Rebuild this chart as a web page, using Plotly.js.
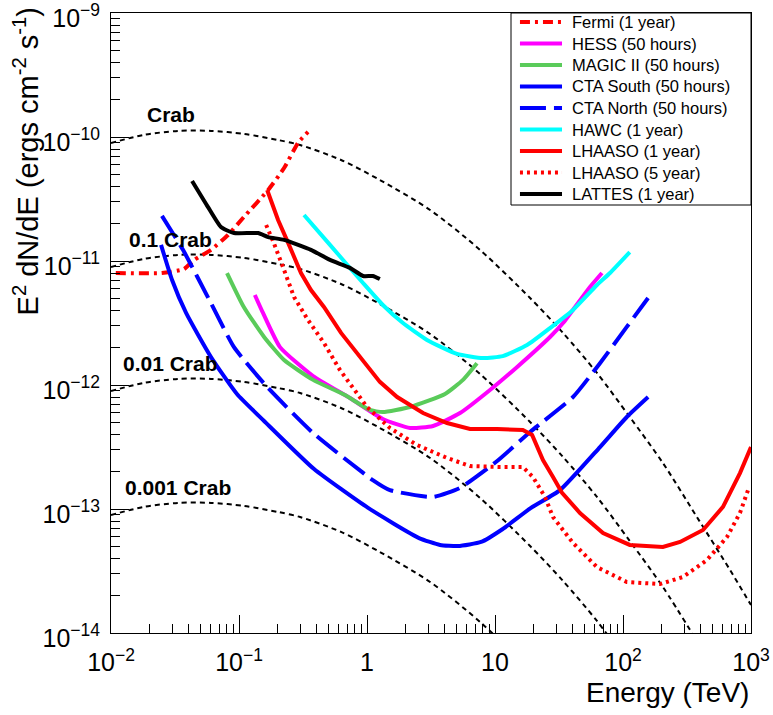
<!DOCTYPE html>
<html><head><meta charset="utf-8">
<script src="https://cdn.plot.ly/plotly-3.0.1.min.js"></script>
<style>body{margin:0;background:#fff}#chart{width:773px;height:715px}</style>
</head><body><div id="chart"></div>
<script>
// ---- Crab reference spectra (E in TeV, E^2 dN/dE in erg cm^-2 s^-1) ----
const crabE    = [0.01, 0.0181, 0.0333, 0.0604, 0.109, 0.202, 0.300, 0.627, 1.26, 3.11, 7.63, 18.8, 34.0, 62.6, 113, 205, 378, 686, 1000];
const crab1F   = [8.95e-11, 1.04e-10, 1.12e-10, 1.12e-10, 1.06e-10, 9.46e-11, 8.62e-11, 6.53e-11, 4.50e-11, 2.58e-11, 1.23e-11, 5.03e-12, 2.63e-12, 1.25e-12, 5.52e-13, 2.35e-13, 8.61e-14, 3.22e-14, 1.68e-14];
const crab01F  = [8.95e-12, 1.04e-11, 1.12e-11, 1.12e-11, 1.06e-11, 9.46e-12, 8.62e-12, 6.53e-12, 4.50e-12, 2.58e-12, 1.23e-12, 5.03e-13, 2.63e-13, 1.25e-13, 5.52e-14, 2.35e-14, 8.61e-15];
const crab001F = [8.95e-13, 1.04e-12, 1.12e-12, 1.12e-12, 1.06e-12, 9.46e-13, 8.62e-13, 6.53e-13, 4.50e-13, 2.58e-13, 1.23e-13, 5.03e-14, 2.63e-14, 1.25e-14, 5.52e-15];
const crab0001F= [8.95e-14, 1.04e-13, 1.12e-13, 1.12e-13, 1.06e-13, 9.46e-14, 8.62e-14, 6.53e-14, 4.50e-14, 2.58e-14, 1.23e-14, 5.03e-15];
const crabLabels = ["Crab", "0.1 Crab", "0.01 Crab", "0.001 Crab"];

// ---- Instrument sensitivities ----
const fermiE = [0.0109, 0.0246, 0.0371, 0.0445, 0.0604, 0.082, 0.109, 0.169, 0.225, 0.289, 0.346];
const fermiF = [8.0e-12, 8.0e-12, 8.6e-12, 1.02e-11, 1.23e-11, 1.62e-11, 2.26e-11, 3.74e-11, 5.62e-11, 8.95e-11, 1.10e-10];

const hessE = [0.133, 0.154, 0.209, 0.379, 0.736, 1.33, 2.17, 3.28, 5.33, 9.14, 14.9, 26.9, 34.0, 55.2, 68.5];
const hessF = [5.32e-12, 3.81e-12, 2.02e-12, 1.18e-12, 7.85e-13, 5.32e-13, 4.50e-13, 4.67e-13, 5.94e-13, 9.12e-13, 1.40e-12, 2.44e-12, 3.16e-12, 6.17e-12, 8.0e-12];

const magicE = [0.0806, 0.109, 0.157, 0.225, 0.379, 0.673, 1.05, 1.33, 2.17, 4.07, 5.62, 7.23];
const magicF = [8.0e-12, 4.26e-12, 2.44e-12, 1.59e-12, 1.10e-12, 8.3e-13, 6.29e-13, 6.05e-13, 6.65e-13, 8.46e-13, 1.10e-12, 1.50e-12];

const ctaSouthE = [0.0246, 0.030, 0.0386, 0.0604, 0.0964, 0.157, 0.386, 1.02, 2.55, 3.72, 5.14, 7.78, 11.5, 19.1, 32.2, 66.1, 107, 157];
const ctaSouthF = [1.35e-11, 7.03e-12, 3.81e-12, 1.68e-12, 8.46e-13, 5.13e-13, 2.10e-13, 1.02e-13, 5.83e-14, 5.13e-14, 5.03e-14, 5.42e-14, 6.90e-14, 1.02e-13, 1.42e-13, 3.16e-13, 5.52e-13, 8.0e-13];

const ctaNorthE = [0.025, 0.0365, 0.0604, 0.0914, 0.166, 0.379, 1.11, 1.51, 3.28, 5.33, 10.4, 18.8, 40.7, 66.1, 107, 157];
const ctaNorthF = [2.31e-11, 1.23e-11, 4.58e-12, 2.02e-12, 9.64e-13, 4.10e-13, 1.71e-13, 1.42e-13, 1.25e-13, 1.48e-13, 2.44e-13, 4.18e-13, 8.0e-13, 1.50e-12, 2.94e-12, 5.03e-12];

const hawcE = [0.322, 0.514, 0.736, 0.931, 1.33, 1.91, 2.94, 5.05, 8.05, 11.5, 17.8, 26.9, 40.7, 62.6, 79.1, 113];
const hawcF = [2.35e-11, 1.35e-11, 8.79e-12, 6.65e-12, 4.42e-12, 3.16e-12, 2.31e-12, 1.78e-12, 1.65e-12, 1.71e-12, 2.10e-12, 2.88e-12, 4.03e-12, 6.40e-12, 8.0e-12, 1.18e-11];

const lhaaso1E = [0.166, 0.202, 0.242, 0.305, 0.365, 0.461, 0.627, 0.931, 1.26, 1.72, 2.74, 4.22, 6.38, 10.4, 16.5, 19.5, 23.7, 28.4, 33.4, 46.1, 69.8, 113, 205, 279, 422, 604, 820, 1000];
const lhaaso1F = [3.74e-11, 2.14e-11, 1.40e-11, 8.0e-12, 5.83e-12, 4.26e-12, 2.63e-12, 1.59e-12, 1.06e-12, 8.0e-13, 5.94e-13, 4.94e-13, 4.42e-13, 4.42e-13, 4.34e-13, 3.95e-13, 2.48e-13, 1.81e-13, 1.35e-13, 9.29e-14, 6.40e-14, 5.13e-14, 4.94e-14, 5.42e-14, 6.77e-14, 1.04e-13, 1.95e-13, 3.16e-13];

const lhaaso5E = [0.163, 0.187, 0.225, 0.269, 0.346, 0.461, 0.615, 1.0, 1.51, 2.46, 4.22, 6.38, 10.9, 16.5, 19.8, 24.6, 28.4, 40.7, 62.6, 107, 195, 294, 453, 649, 820, 948];
const lhaaso5F = [1.95e-11, 1.40e-11, 8.46e-12, 5.13e-12, 3.34e-12, 2.18e-12, 1.32e-12, 6.65e-13, 4.50e-13, 3.28e-13, 2.58e-13, 2.22e-13, 2.18e-13, 2.18e-13, 1.81e-13, 1.25e-13, 8.61e-14, 5.32e-14, 3.40e-14, 2.58e-14, 2.48e-14, 2.83e-14, 3.88e-14, 5.94e-14, 9.29e-14, 1.42e-13];

const lattesE = [0.043, 0.0573, 0.0723, 0.0914, 0.141, 0.169, 0.225, 0.365, 0.514, 0.736, 0.931, 1.11, 1.26];
const lattesF = [4.42e-11, 2.72e-11, 1.88e-11, 1.68e-11, 1.68e-11, 1.56e-11, 1.48e-11, 1.23e-11, 1.02e-11, 8.8e-12, 7.57e-12, 7.57e-12, 7.16e-12];

const seriesNames = ["Fermi (1 year)", "HESS (50 hours)", "MAGIC II (50 hours)", "CTA South (50 hours)", "CTA North (50 hours)",
                     "HAWC (1 year)", "LHAASO (1 year)", "LHAASO (5 year)", "LATTES (1 year)"];

const xTickVals = [0.01, 0.1, 1, 10, 100, 1000];
const xTickText = ["10<sup>−2</sup>", "10<sup>−1</sup>", "1", "10", "10<sup>2</sup>", "10<sup>3</sup>"];
const yTickVals = [1e-14, 1e-13, 1e-12, 1e-11, 1e-10, 1e-9];
const yTickText = ["10<sup>−14</sup>", "10<sup>−13</sup>", "10<sup>−12</sup>", "10<sup>−11</sup>", "10<sup>−10</sup>", "10<sup>−9</sup>"];

function minorVals(lo, hi) {
  const v = [];
  for (let d = lo; d < hi; d++) for (let k = 2; k <= 9; k++) v.push(k * Math.pow(10, d));
  return v;
}

const FONT = "Liberation Sans, Arial, Helvetica, sans-serif";

// series styles (parallel to seriesNames)
const series = [
  {x: fermiE,    y: fermiF,    color: "#ff0000", dash: "10px,5px,3px,5px", shape: "spline"},
  {x: hessE,     y: hessF,     color: "#ff00ff", dash: "solid",            shape: "spline"},
  {x: magicE,    y: magicF,    color: "#5acb5a", dash: "solid",            shape: "spline"},
  {x: ctaSouthE, y: ctaSouthF, color: "#0000ff", dash: "solid",            shape: "spline"},
  {x: ctaNorthE, y: ctaNorthF, color: "#0000ff", dash: "26px,8px",         shape: "spline"},
  {x: hawcE,     y: hawcF,     color: "#00ffff", dash: "solid",            shape: "spline"},
  {x: lhaaso1E,  y: lhaaso1F,  color: "#ff0000", dash: "solid",            shape: "linear"},
  {x: lhaaso5E,  y: lhaaso5F,  color: "#ff0000", dash: "3px,4px",          shape: "linear"},
  {x: lattesE,   y: lattesF,   color: "#000000", dash: "solid",            shape: "spline"}
];

function crabTrace(y, name) {
  return {x: crabE.slice(0, y.length), y: y, name: name, mode: "lines", showlegend: false, hoverinfo: "skip",
          line: {color: "#000", width: 2, dash: "5px,4px", shape: "spline", smoothing: 0.8}};
}

const traces = [crabTrace(crab1F, crabLabels[0]), crabTrace(crab01F, crabLabels[1]),
                crabTrace(crab001F, crabLabels[2]), crabTrace(crab0001F, crabLabels[3])];
series.forEach((s, i) => traces.push({
  x: s.x, y: s.y, name: seriesNames[i], mode: "lines", showlegend: false,
  line: {color: s.color, width: 4, dash: s.dash, shape: s.shape, smoothing: 0.5}
}));

// ---- annotations: Crab labels and axis titles ----
const labelPos = [[0.09375, 0.8355, "center"], [0.025, 0.6347, "left"], [0.0156, 0.4339, "left"], [0.01875, 0.2339, "left"]];
const annotations = crabLabels.map((t, i) => ({
  text: "<b>" + t + "</b>", xref: "paper", yref: "paper", x: labelPos[i][0], y: labelPos[i][1],
  xanchor: labelPos[i][2], yanchor: "middle", showarrow: false, font: {family: FONT, size: 21, color: "#000"}
}));
annotations.push({text: "Energy (TeV)", xref: "paper", yref: "paper", x: 1.0, y: -0.0952,
  xanchor: "right", yanchor: "middle", showarrow: false, font: {family: FONT, size: 28, color: "#000"}});
annotations.push({text: "E<sup>2</sup> dN/dE (ergs cm<sup>-2</sup> s<sup>-1</sup>)", xref: "paper", yref: "paper",
  x: -0.133, y: 1.012, xanchor: "center", yanchor: "top", textangle: -90, showarrow: false,
  font: {family: FONT, size: 29, color: "#000"}});

// ---- legend (ROOT-style box) ----
const shapes = [{type: "rect", xref: "paper", yref: "paper", x0: 0.625, x1: 1.0, y0: 0.6903, y1: 1.0,
                 line: {color: "#000", width: 1}, fillcolor: "#fff", layer: "above"}];
const rowTopPx = 22, rowStepPx = 21.5, plotTopPx = 13, plotHpx = 620;
seriesNames.forEach((name, i) => {
  const py = rowTopPx + rowStepPx * i;
  const yp = 1 - (py - plotTopPx) / plotHpx;
  shapes.push({type: "line", xref: "paper", yref: "paper", x0: 0.639, x1: 0.7047, y0: yp, y1: yp, layer: "above",
               line: {color: series[i].color, width: 4, dash: series[i].dash}});
  annotations.push({text: name, xref: "paper", yref: "paper", x: 0.7172, y: yp, xanchor: "left", yanchor: "middle",
                    showarrow: false, font: {family: FONT, size: 16.5, color: "#000"}});
});

const axisCommon = {
  type: "log", showgrid: false, zeroline: false, showline: true, linecolor: "#000", linewidth: 1, mirror: true,
  ticks: "inside", ticklen: 18, tickwidth: 1, tickcolor: "#000", tickmode: "array",
  tickfont: {family: FONT, size: 25, color: "#000"}, ticklabeloverflow: "allow"
};

const layout = {
  width: 773, height: 715,
  margin: {l: 111, r: 22, t: 13, b: 82},
  paper_bgcolor: "#fff", plot_bgcolor: "#fff",
  font: {family: FONT, color: "#000"},
  showlegend: false,
  xaxis: Object.assign({}, axisCommon, {range: [-2, 3], tickvals: xTickVals, ticktext: xTickText, title: {text: ""},
    minor: {ticks: "inside", ticklen: 9, tickwidth: 1, tickcolor: "#000", tickmode: "array", tickvals: minorVals(-2, 3)},
    ticklabelstandoff: 7}),
  yaxis: Object.assign({}, axisCommon, {range: [-14, -8.9999], tickvals: yTickVals, ticktext: yTickText, title: {text: ""},
    minor: {ticks: "inside", ticklen: 9, tickwidth: 1, tickcolor: "#000", tickmode: "array", tickvals: minorVals(-14, -9)},
    ticklabelstandoff: 5, ticklabelshift: 5}),
  shapes: shapes,
  annotations: annotations
};

Plotly.newPlot("chart", traces, layout, {displayModeBar: false, staticPlot: true});
</script>
</body></html>
